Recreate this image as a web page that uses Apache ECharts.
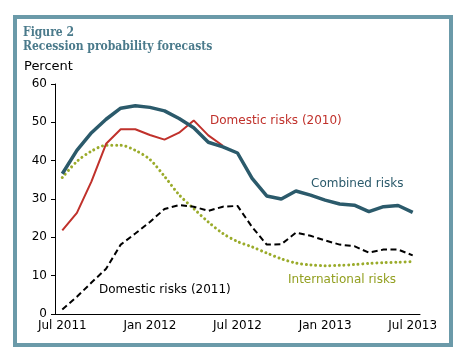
<!DOCTYPE html>
<html><head><meta charset="utf-8">
<script src="https://cdn.jsdelivr.net/npm/echarts@6/dist/echarts.min.js"></script>
<style>html,body{margin:0;padding:0;background:#fff}#c{width:463px;height:360px}</style>
</head><body><div id="c"></div>
<script>
const months = ['Jul 2011','Aug 2011','Sep 2011','Oct 2011','Nov 2011','Dec 2011','Jan 2012','Feb 2012','Mar 2012','Apr 2012','May 2012','Jun 2012','Jul 2012','Aug 2012','Sep 2012','Oct 2012','Nov 2012','Dec 2012','Jan 2013','Feb 2013','Mar 2013','Apr 2013','May 2013','Jun 2013','Jul 2013'];
const combined = [36.6,42.7,47.3,50.8,53.7,54.3,53.9,53.0,51.0,48.6,44.8,43.6,42.0,35.4,30.8,30.0,32.1,31.0,29.7,28.7,28.4,26.7,28.0,28.3,26.5];
const domestic2010 = [21.8,26.4,34.6,44.4,48.2,48.2,46.7,45.5,47.3,50.5,46.6,43.9];
const international = [35.6,39.8,42.5,44.0,44.0,42.7,40.3,35.9,31.1,27.5,24.0,21.0,18.9,17.5,15.9,14.4,13.3,12.8,12.6,12.7,12.9,13.2,13.4,13.5,13.7];
const domestic2011 = [1.2,4.5,8.2,11.8,18.1,21.0,24.0,27.4,28.4,28.0,26.9,28.0,28.2,22.7,18.1,18.2,21.2,20.4,19.2,18.1,17.7,16.0,16.8,16.8,15.3];
const yTicks = [0,10,20,30,40,50,60];

const chart = echarts.init(document.getElementById('c'));
const axisFont = {fontFamily:'DejaVu Sans', fontSize:12, color:'#000'};
chart.setOption({
  animation:false,
  grid:{left:55,right:43,top:84,bottom:46},
  xAxis:{type:'category',data:months,boundaryGap:true,
    axisLine:{lineStyle:{color:'#000',width:1}},
    axisTick:{interval:2,length:4,lineStyle:{color:'#000'}},
    axisLabel:Object.assign({interval:5,margin:6},axisFont),
    splitLine:{show:false}},
  yAxis:{type:'value',min:yTicks[0],max:yTicks[yTicks.length-1],interval:10,
    axisLine:{show:true,lineStyle:{color:'#000',width:1}},
    axisTick:{show:true,length:4,lineStyle:{color:'#000'}},
    axisLabel:Object.assign({margin:8},axisFont),
    splitLine:{show:false}},
  series:[
    {name:'International risks',type:'line',data:international,smooth:0.3,symbol:'none',
      lineStyle:{color:'#9aab2a',width:3,type:[0.01,4.7],cap:'round'},z:2},
    {name:'Domestic risks (2011)',type:'line',data:domestic2011,symbol:'none',
      lineStyle:{color:'#000',width:2,type:[6,3.5]},z:3},
    {name:'Domestic risks (2010)',type:'line',data:domestic2010,symbol:'none',
      lineStyle:{color:'#c0312b',width:2},z:4},
    {name:'Combined risks',type:'line',data:combined,symbol:'none',
      lineStyle:{color:'#2b5a6b',width:3.5},z:5}
  ],
  graphic:[
    {type:'rect',shape:{x:15,y:17,width:436,height:328},style:{fill:'none',stroke:'#6b9aa9',lineWidth:4},silent:true},
    {type:'text',left:23,top:27,style:{text:'Figure 2',font:'bold 12px "DejaVu Serif Condensed", "DejaVu Serif"',fill:'#4a7a8b'}},
    {type:'text',left:23,top:41,style:{text:'Recession probability forecasts',font:'bold 12px "DejaVu Serif Condensed", "DejaVu Serif"',fill:'#4a7a8b'}},
    {type:'text',left:24,top:60,style:{text:'Percent',font:'13px "DejaVu Sans"',fill:'#000'}},
    {type:'text',left:210,top:115,style:{text:'Domestic risks (2010)',font:'12px "DejaVu Sans"',fill:'#c0312b'}},
    {type:'text',left:311,top:178,style:{text:'Combined risks',font:'12px "DejaVu Sans"',fill:'#2b5a6b'}},
    {type:'text',left:288,top:274,style:{text:'International risks',font:'12px "DejaVu Sans"',fill:'#929f1f'}},
    {type:'text',left:99,top:284,style:{text:'Domestic risks (2011)',font:'12px "DejaVu Sans"',fill:'#000'}}
  ]
});
</script></body></html>
